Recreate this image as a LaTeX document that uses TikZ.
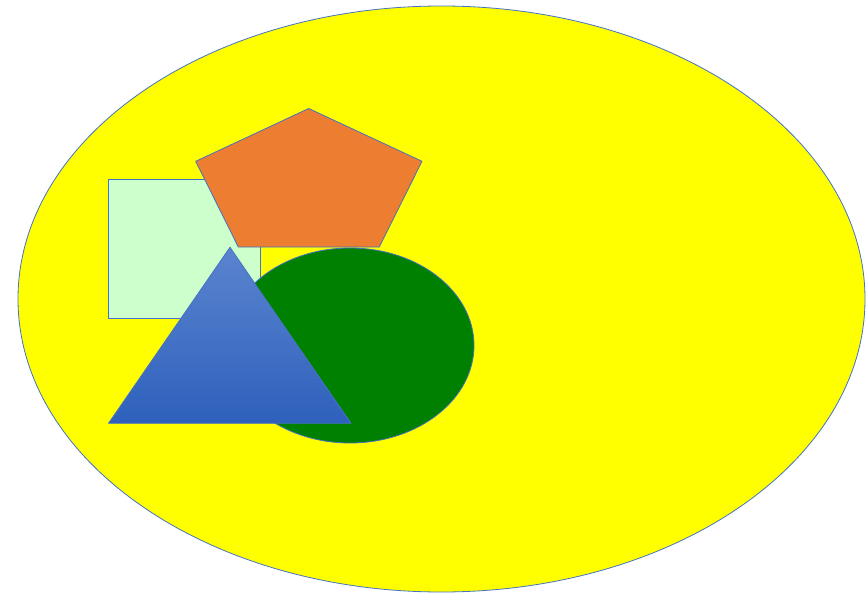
\documentclass[tikz,border=0pt]{standalone}
\begin{document}
\begin{tikzpicture}[x=1pt,y=-1pt,
  outl/.style={draw=edgeblue,line width=0.8pt,line join=round}]
\definecolor{edgeblue}{HTML}{4472C4}
\definecolor{bigyellow}{HTML}{FFFF00}
\definecolor{mint}{HTML}{CCFFCC}
\definecolor{orangefill}{HTML}{ED7D31}
\definecolor{darkgreen}{HTML}{008000}
\definecolor{tritop}{HTML}{5B84CF}
\definecolor{tribot}{HTML}{2E61BC}
\useasboundingbox (0,0) rectangle (868,594);
\fill[white] (0,0) rectangle (868,594);
% big ellipse
\path[outl,fill=bigyellow] (441.5,299) ellipse [x radius=423.5,y radius=293];
% square
\path[outl,fill=mint] (108.5,179.5) rectangle (260.3,318.3);
% pentagon
\path[outl,fill=orangefill] (308.7,108.5) -- (422,161.3) -- (379.3,247) -- (238.3,247) -- (195.7,161.3) -- cycle;
% green ellipse
\path[outl,fill=darkgreen] (350,345.5) ellipse [x radius=124,y radius=97.5];
% triangle
\path[outl,top color=tritop,bottom color=tribot] (230,247.3) -- (351,423.3) -- (108.5,423.3) -- cycle;
\end{tikzpicture}
\end{document}
